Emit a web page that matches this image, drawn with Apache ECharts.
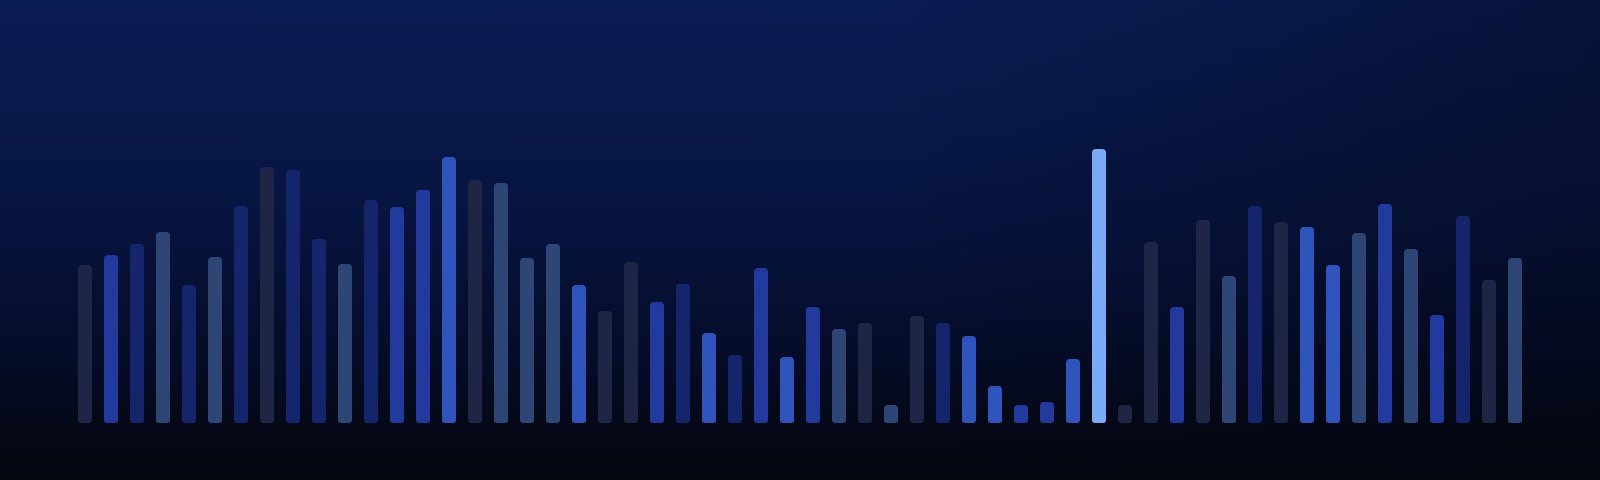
<!DOCTYPE html>
<html>
<head>
<meta charset="utf-8">
<style>
  html, body { margin: 0; padding: 0; background: #050a1a; }
  #main {
    width: 1600px; height: 480px;
    background:
      linear-gradient(90deg, rgba(2,4,12,0) 0%, rgba(2,4,12,0) 55%, rgba(2,4,12,0.35) 100%),
      linear-gradient(180deg, #0a1c54 0%, #081849 25%, #07133d 50%, #050c27 75%, #040816 90%, #03060f 100%);
  }
</style>
<script src="https://cdn.jsdelivr.net/npm/echarts@6/dist/echarts.min.js"></script>
</head>
<body>
<div id="main"></div>
<script>
var categories = [];
for (var i = 1; i <= 56; i++) { categories.push("B" + i); }

var values = [
  158, 168, 179, 191, 138, 166, 217, 256, 253, 184,
  159, 223, 216, 233, 266, 243, 240, 165, 179, 138,
  112, 161, 121, 139, 90, 68, 155, 66, 116, 94,
  100, 18, 107, 100, 87, 37, 18, 21, 64, 274,
  18, 181, 116, 203, 147, 217, 201, 196, 158, 190,
  219, 174, 108, 207, 143, 165
];

// colour group of every bar
var tones = [
  "gray", "mid", "navy", "slate", "navy", "slate", "navy", "gray", "navy", "navy",
  "slate", "navy", "mid", "mid", "bright", "gray", "slate", "slate", "slate", "bright",
  "gray", "gray", "mid", "navy", "bright", "navy", "mid", "bright", "mid", "slate",
  "gray", "slate", "gray", "navy", "bright", "bright", "mid", "mid", "bright", "light",
  "gray", "gray", "mid", "gray", "slate", "navy", "gray", "bright", "bright", "slate",
  "mid", "slate", "mid", "navy", "gray", "slate"
];

var palette = {
  gray: "#1f2545",
  navy: "#15256b",
  mid: "#22399e",
  slate: "#2e4676",
  bright: "#2f54bb",
  light: "#7aabf7"
};

var myChart = echarts.init(document.getElementById("main"));

var barData = values.map(function (v, i) {
  return { value: v, itemStyle: { color: palette[tones[i]] } };
});

myChart.setOption({
  animation: false,
  backgroundColor: "transparent",
  grid: { left: 72, right: 72, top: 123, bottom: 57 },
  xAxis: {
    type: "category",
    data: categories,
    axisLine: { show: false },
    axisTick: { show: false },
    axisLabel: { show: false },
    splitLine: { show: false }
  },
  yAxis: {
    type: "value",
    min: 0,
    max: 300,
    show: false
  },
  series: [{
    type: "bar",
    data: barData,
    barWidth: 14,
    itemStyle: { borderRadius: [4, 4, 3, 3] }
  }]
});
</script>
</body>
</html>
